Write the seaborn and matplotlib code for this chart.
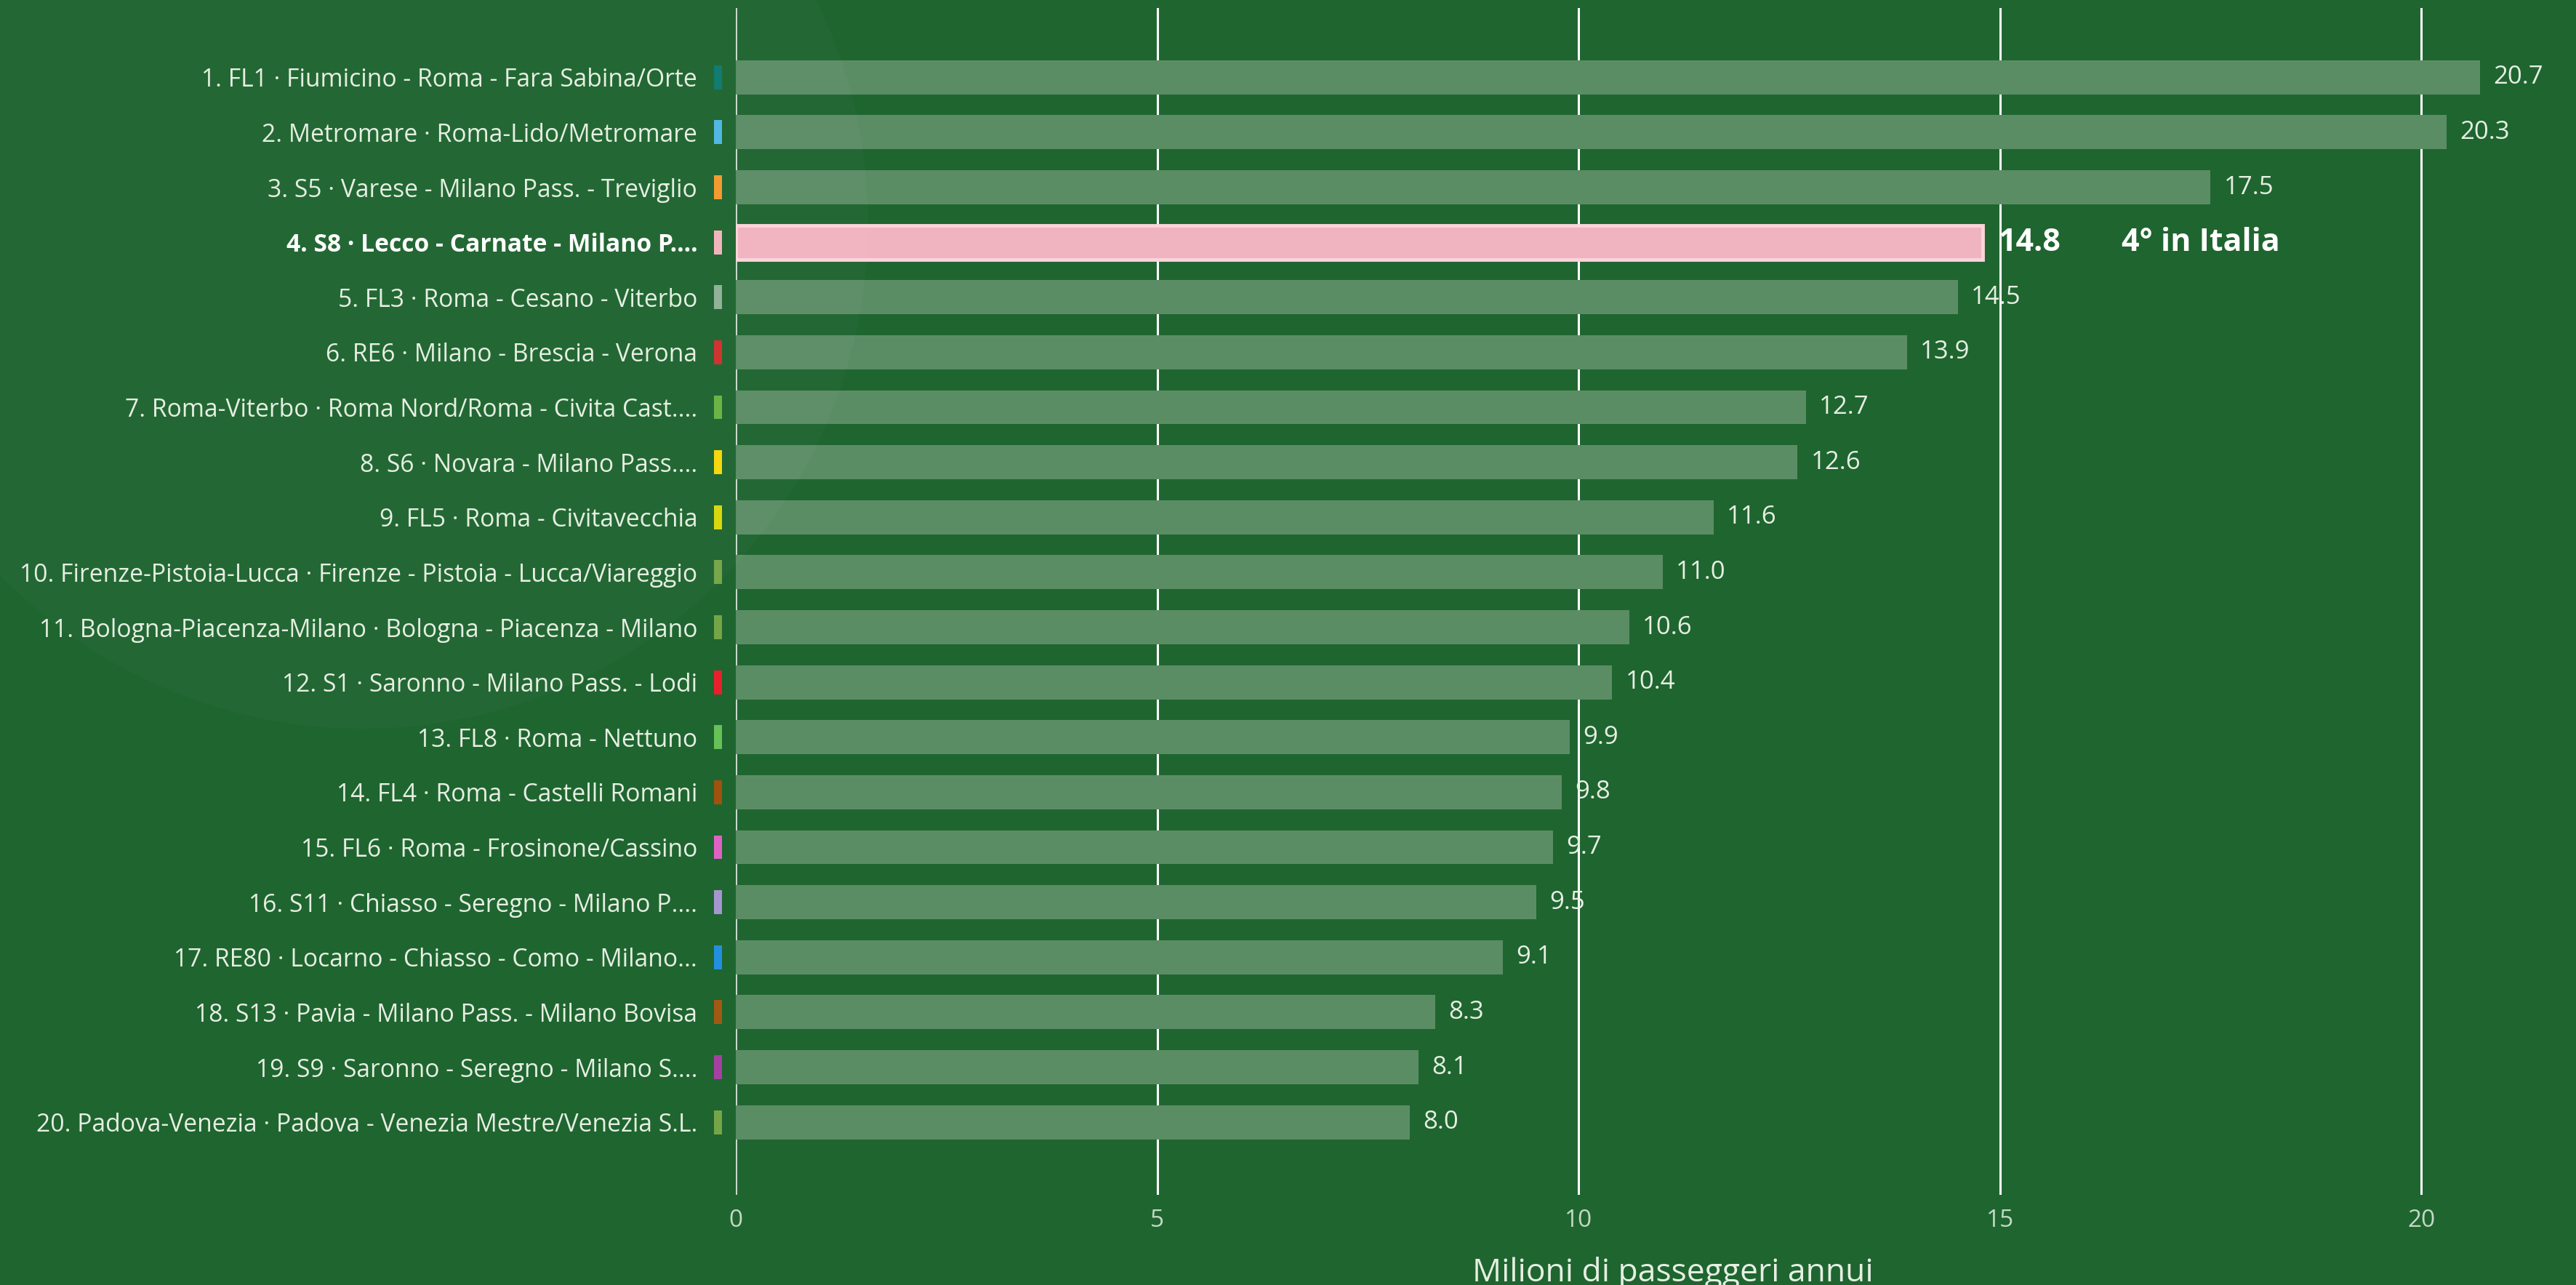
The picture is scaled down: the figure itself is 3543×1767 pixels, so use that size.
import matplotlib.pyplot as plt
import numpy as np
import pandas as pd
import seaborn as sns
from matplotlib.patches import Circle
from matplotlib.path import Path

# line names (ranked) and annual passengers in millions
lines = ['1. FL1 · Fiumicino - Roma - Fara Sabina/Orte',
         '2. Metromare · Roma-Lido/Metromare',
         '3. S5 · Varese - Milano Pass. - Treviglio',
         '4. S8 · Lecco - Carnate - Milano P....',
         '5. FL3 · Roma - Cesano - Viterbo',
         '6. RE6 · Milano - Brescia - Verona',
         '7. Roma-Viterbo · Roma Nord/Roma - Civita Cast....',
         '8. S6 · Novara - Milano Pass....',
         '9. FL5 · Roma - Civitavecchia',
         '10. Firenze-Pistoia-Lucca · Firenze - Pistoia - Lucca/Viareggio',
         '11. Bologna-Piacenza-Milano · Bologna - Piacenza - Milano',
         '12. S1 · Saronno - Milano Pass. - Lodi',
         '13. FL8 · Roma - Nettuno',
         '14. FL4 · Roma - Castelli Romani',
         '15. FL6 · Roma - Frosinone/Cassino',
         '16. S11 · Chiasso - Seregno - Milano P....',
         '17. RE80 · Locarno - Chiasso - Como - Milano...',
         '18. S13 · Pavia - Milano Pass. - Milano Bovisa',
         '19. S9 · Saronno - Seregno - Milano S....',
         '20. Padova-Venezia · Padova - Venezia Mestre/Venezia S.L.']
passengers = [20.7, 20.3, 17.5, 14.8, 14.5, 13.9, 12.7, 12.6, 11.6, 11.0,
              10.6, 10.4, 9.9, 9.8, 9.7, 9.5, 9.1, 8.3, 8.1, 8.0]
line_colors = ['#0E7A6E', '#4FB6E3', '#F39A2E', '#F2B3BB', '#8FB196',
               '#D0302E', '#6BB344', '#F5D80C', '#D8D80A', '#76A548',
               '#76A548', '#E8202C', '#66C256', '#A0530E', '#DE62C4',
               '#A596D0', '#2290DE', '#A15A12', '#A540A2', '#76A548']
highlight = 3
tick_vals = [0, 5, 10, 15, 20]

bg = '#1F6530'
bar_col = '#5B8D65'
pink = '#F0B4C0'
txt = '#E6EFE2'

df = pd.DataFrame({'line': lines, 'passengers': passengers})

sns.set_style('white')
plt.rcParams['font.family'] = ['Open Sans', 'DejaVu Sans']

fig = plt.figure(figsize=(35.43, 17.67), dpi=100, facecolor=bg)

# faint decorative circle in the corner
fig.patches.append(Circle((4.99, 14.6), 6.95, transform=fig.dpi_scale_trans,
                          facecolor='white', alpha=0.02, edgecolor='none', zorder=0))

ax = fig.add_axes([1012 / 3543, 124 / 1767, 2492 / 3543, 1632 / 1767])
ax.set_facecolor('none')

pal = [pink if i == highlight else bar_col for i in range(len(lines))]
sns.barplot(data=df, x='passengers', y='line', hue='line', palette=pal,
            legend=False, width=0.62, ax=ax, saturation=1, zorder=3)

for i, p in enumerate(ax.patches):
    if i == highlight:
        p.set_edgecolor('#FFD4DC')
        p.set_linewidth(3.5)
    else:
        p.set_edgecolor('none')

ax.set_xlim(0, 21.5)
ax.set_ylim(len(lines) - 1 + 1.32, -1.26)

# vertical white grid lines
for v in tick_vals:
    ax.axvline(v, color='white', lw=2.2, alpha=0.75 if v == 0 else 1, zorder=1)

for s in ax.spines.values():
    s.set_visible(False)

ax.set_xticks(tick_vals)
ax.tick_params(axis='x', length=0, pad=14, labelsize=24, labelcolor='#C4D9C4')
ax.tick_params(axis='y', length=0, pad=38, labelsize=24.2, labelcolor=txt)
for i, t in enumerate(ax.get_yticklabels()):
    if i == highlight:
        t.set_fontweight('bold')
        t.set_color('white')

ax.set_ylabel('')
ax.set_xlabel('Milioni di passeggeri annui', fontsize=32, color=txt)
ax.xaxis.set_label_coords(0.517, -0.052)

# coloured line markers left of the axis
bar_marker = Path([(-1, -3), (1, -3), (1, 3), (-1, 3), (-1, -3)])
ax.scatter(np.full(len(lines), -0.0098), np.arange(len(lines)), marker=bar_marker,
           s=560, c=line_colors, transform=ax.get_yaxis_transform(), clip_on=False,
           linewidths=0, zorder=4)

# value labels
for i, v in enumerate(passengers):
    if i == highlight:
        ax.annotate(f'{v:.1f}', (v, i), xytext=(15, 0), textcoords='offset points',
                    va='center', ha='left', fontsize=31, fontweight='bold', color='white', zorder=5)
        ax.annotate('4° in Italia', (v, i), xytext=(137, 0), textcoords='offset points',
                    va='center', ha='left', fontsize=31, fontweight='bold', color='white', zorder=5)
    else:
        ax.annotate(f'{v:.1f}', (v, i), xytext=(13, 0), textcoords='offset points',
                    va='center', ha='left', fontsize=25, color=txt, zorder=5)

fig.savefig('out.png', dpi=100, facecolor=bg)
